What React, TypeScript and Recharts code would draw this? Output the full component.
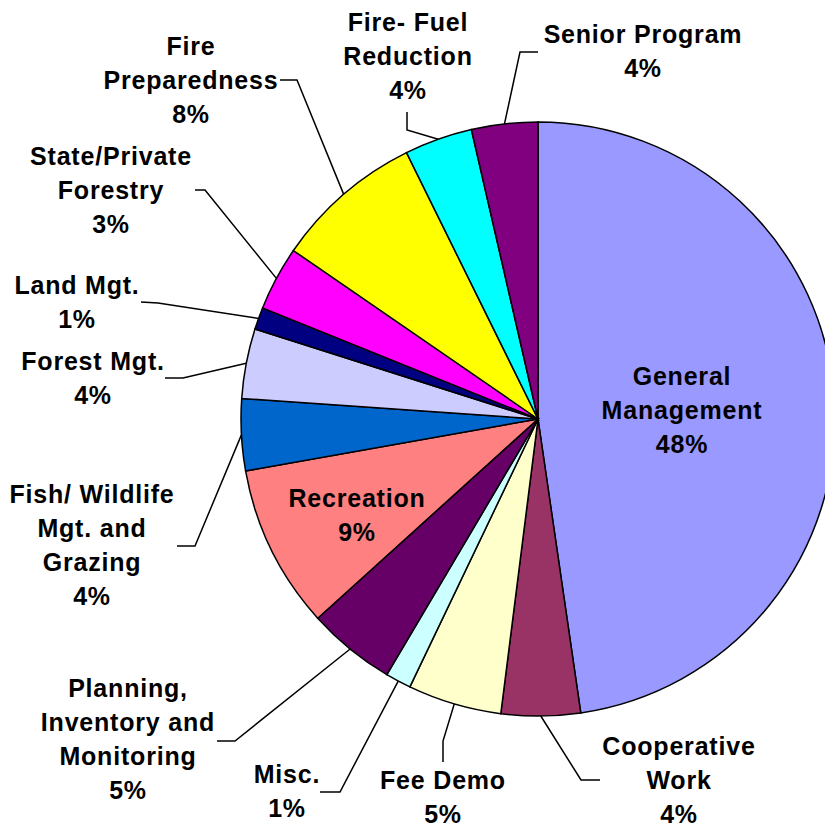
import { PieChart, Pie, Cell } from "recharts";

const categories = [
  "General Management",
  "Cooperative Work",
  "Fee Demo",
  "Misc.",
  "Planning, Inventory and Monitoring",
  "Recreation",
  "Fish/ Wildlife Mgt. and Grazing",
  "Forest Mgt.",
  "Land Mgt.",
  "State/Private Forestry",
  "Fire Preparedness",
  "Fire- Fuel Reduction",
  "Senior Program",
];
const shares = [47.7, 4.3, 5.1, 1.4, 4.8, 8.9, 3.9, 3.8, 1.2, 3.5, 8.1, 3.7, 3.6];
const pctLabels = ["48%", "4%", "5%", "1%", "5%", "9%", "4%", "4%", "1%", "3%", "8%", "4%", "4%"];
const colors = [
  "#9999FF",
  "#993366",
  "#FFFFCC",
  "#CCFFFF",
  "#660066",
  "#FF8080",
  "#0066CC",
  "#CCCCFF",
  "#000080",
  "#FF00FF",
  "#FFFF00",
  "#00FFFF",
  "#800080",
];

const data = categories.map((name, i) => ({ name, value: shares[i] }));

// where each label sits, and the elbow of its leader line
const layout: { lines: string[]; x: number; y: number; leader?: number[][] }[] = [
  { lines: ["General", "Management"], x: 682, y: 385 },
  { lines: ["Cooperative", "Work"], x: 679, y: 755, leader: [[600, 780], [581, 780]] },
  { lines: ["Fee Demo"], x: 443, y: 789, leader: [[443, 762], [443, 741]] },
  { lines: ["Misc."], x: 287, y: 783, leader: [[320, 792], [340, 792]] },
  { lines: ["Planning,", "Inventory and", "Monitoring"], x: 128, y: 697, leader: [[217, 741], [235, 741]] },
  { lines: ["Recreation"], x: 357, y: 507 },
  { lines: ["Fish/ Wildlife", "Mgt. and", "Grazing"], x: 92, y: 503, leader: [[177, 546], [195, 546]] },
  { lines: ["Forest Mgt."], x: 93, y: 370, leader: [[165, 378], [183, 378]] },
  { lines: ["Land Mgt."], x: 77, y: 294, leader: [[141, 302], [158, 303]] },
  { lines: ["State/Private", "Forestry"], x: 111, y: 165, leader: [[195, 190], [205, 190]] },
  { lines: ["Fire", "Preparedness"], x: 191, y: 55, leader: [[280, 80], [297, 80]] },
  { lines: ["Fire- Fuel", "Reduction"], x: 408, y: 31, leader: [[407, 112], [407, 130]] },
  { lines: ["Senior Program"], x: 643, y: 43, leader: [[538, 52], [520, 52]] },
];

const RAD = Math.PI / 180;
const LINE_H = 34;

function renderLabel(props: any) {
  const { cx, cy, midAngle, outerRadius, index } = props;
  const l = layout[index];
  const ax = cx + outerRadius * Math.cos(-midAngle * RAD);
  const ay = cy + outerRadius * Math.sin(-midAngle * RAD);
  const rows = [...l.lines, pctLabels[index]];
  return (
    <g>
      {l.leader && (
        <polyline
          points={[...l.leader, [ax, ay]].map((p) => p.join(",")).join(" ")}
          fill="none"
          stroke="#000"
          strokeWidth={1.5}
        />
      )}
      {rows.map((t, i) => (
        <text
          key={i}
          x={l.x}
          y={l.y + i * LINE_H}
          textAnchor="middle"
          fill="#000"
          fontFamily="'Liberation Sans', Arial, sans-serif"
          fontWeight="bold"
          fontSize={25}
          letterSpacing={0.8}
        >
          {t}
        </text>
      ))}
    </g>
  );
}

export default function App() {
  return (
    <div style={{ position: "absolute", left: 0, top: 0, width: 825, height: 827, background: "#fff" }}>
      <PieChart width={825} height={827} margin={{ top: 0, right: 0, bottom: 0, left: 0 }}>
        <Pie
          data={data}
          dataKey="value"
          cx={538}
          cy={419}
          outerRadius={297}
          startAngle={90}
          endAngle={-270}
          stroke="#000"
          strokeWidth={1.5}
          label={renderLabel}
          labelLine={false}
          isAnimationActive={false}
        >
          {data.map((d, i) => (
            <Cell key={d.name} fill={colors[i]} />
          ))}
        </Pie>
      </PieChart>
    </div>
  );
}
